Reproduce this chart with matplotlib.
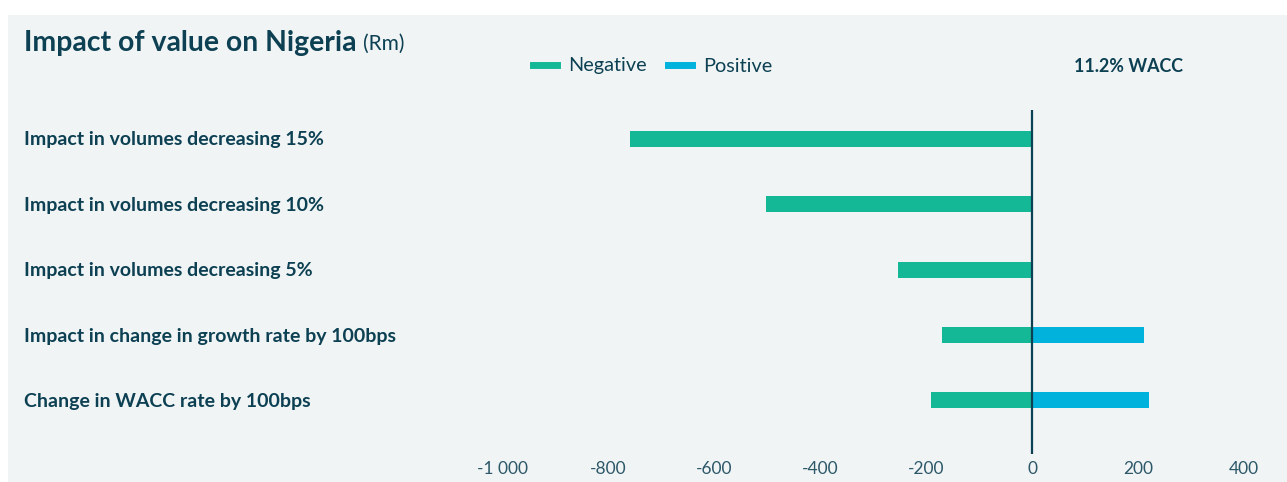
import matplotlib
matplotlib.use("Agg")
import matplotlib.pyplot as plt
from matplotlib.patches import Rectangle
from matplotlib.lines import Line2D
from matplotlib.ticker import FuncFormatter
from matplotlib.transforms import blended_transform_factory

# ---- data -----------------------------------------------------------------
CATEGORIES = [
    "Impact in volumes decreasing 15%",
    "Impact in volumes decreasing 10%",
    "Impact in volumes decreasing 5%",
    "Impact in change in growth rate by 100bps",
    "Change in WACC rate by 100bps",
]
NEGATIVE = [-758, -501, -252, -169, -190]
POSITIVE = [0, 0, 0, 212, 221]
XTICKS = [-1000, -800, -600, -400, -200, 0, 200, 400]

# ---- style ----------------------------------------------------------------
W, H = 1287, 482
BG = "#f0f4f5"
DARK = "#0c4052"
TICK_C = "#2d5868"
GREEN = "#14b897"
BLUE = "#00b2dc"
FONT = ["Lato", "DejaVu Sans"]


def fx(px):
    return px / W


def fy(py):
    return 1 - py / H


fig = plt.figure(figsize=(W / 100, H / 100), dpi=100, facecolor="white")
fig.patches.append(Rectangle((fx(8), 0), 1 - fx(8), fy(15), transform=fig.transFigure,
                             facecolor=BG, edgecolor="none", zorder=-10))

# axes spans x=-1000..400 and the height of the zero line
ax = fig.add_axes([fx(502), fy(454), fx(1244) - fx(502), fy(110) - fy(454)])
ax.set_facecolor("none")
ys = list(range(len(CATEGORIES)))
ax.barh(ys, NEGATIVE, height=0.245, color=GREEN, zorder=2)
ax.barh(ys, POSITIVE, height=0.245, color=BLUE, zorder=2)
ax.axvline(0, color=DARK, lw=1.6, zorder=3)
ax.set_xlim(-1000, 400)
ax.set_ylim(4.82, -0.443)
ax.set_xticks(XTICKS)
ax.xaxis.set_major_formatter(FuncFormatter(lambda v, p: f"{int(v):,}".replace(",", " ")))
ax.tick_params(axis="x", length=0, pad=5, labelsize=12.5, labelcolor=TICK_C)
for lab in ax.get_xticklabels():
    lab.set_family(FONT)
ax.set_yticks([])
for s in ax.spines.values():
    s.set_visible(False)

# category labels, left aligned at the panel margin
lab_tr = blended_transform_factory(fig.transFigure, ax.transData)
for y, name in zip(ys, CATEGORIES):
    ax.text(fx(24), y + 0.015, name, transform=lab_tr, clip_on=False,
            ha="left", va="center", fontsize=14, fontweight="bold", color=DARK, family=FONT)

# title
t = fig.text(fx(24), fy(43), "Impact of value on Nigeria", fontsize=20.4, fontweight="bold",
             color=DARK, family=FONT, va="center", ha="left")
fig.canvas.draw()
bb = t.get_window_extent()
fig.text(bb.x1 / W + fx(6), fy(44), "(Rm)", fontsize=15, color=DARK, family=FONT,
         va="center", ha="left")

# legend
fig.legend(handles=[Line2D([], [], color=GREEN, lw=5, label="Negative"),
                    Line2D([], [], color=BLUE, lw=5, label="Positive")],
           loc="center left", bbox_to_anchor=(fx(515), fy(66)), ncol=2, frameon=False,
           handlelength=1.2, handletextpad=0.55, columnspacing=1.1,
           prop={"family": FONT, "size": 14.3}, labelcolor=DARK)

fig.text(fx(1183), fy(66), "11.2% WACC", fontsize=12.9, fontweight="bold", color=DARK,
         family=FONT, ha="right", va="center")

fig.savefig("out.png", dpi=100, facecolor=fig.get_facecolor())
